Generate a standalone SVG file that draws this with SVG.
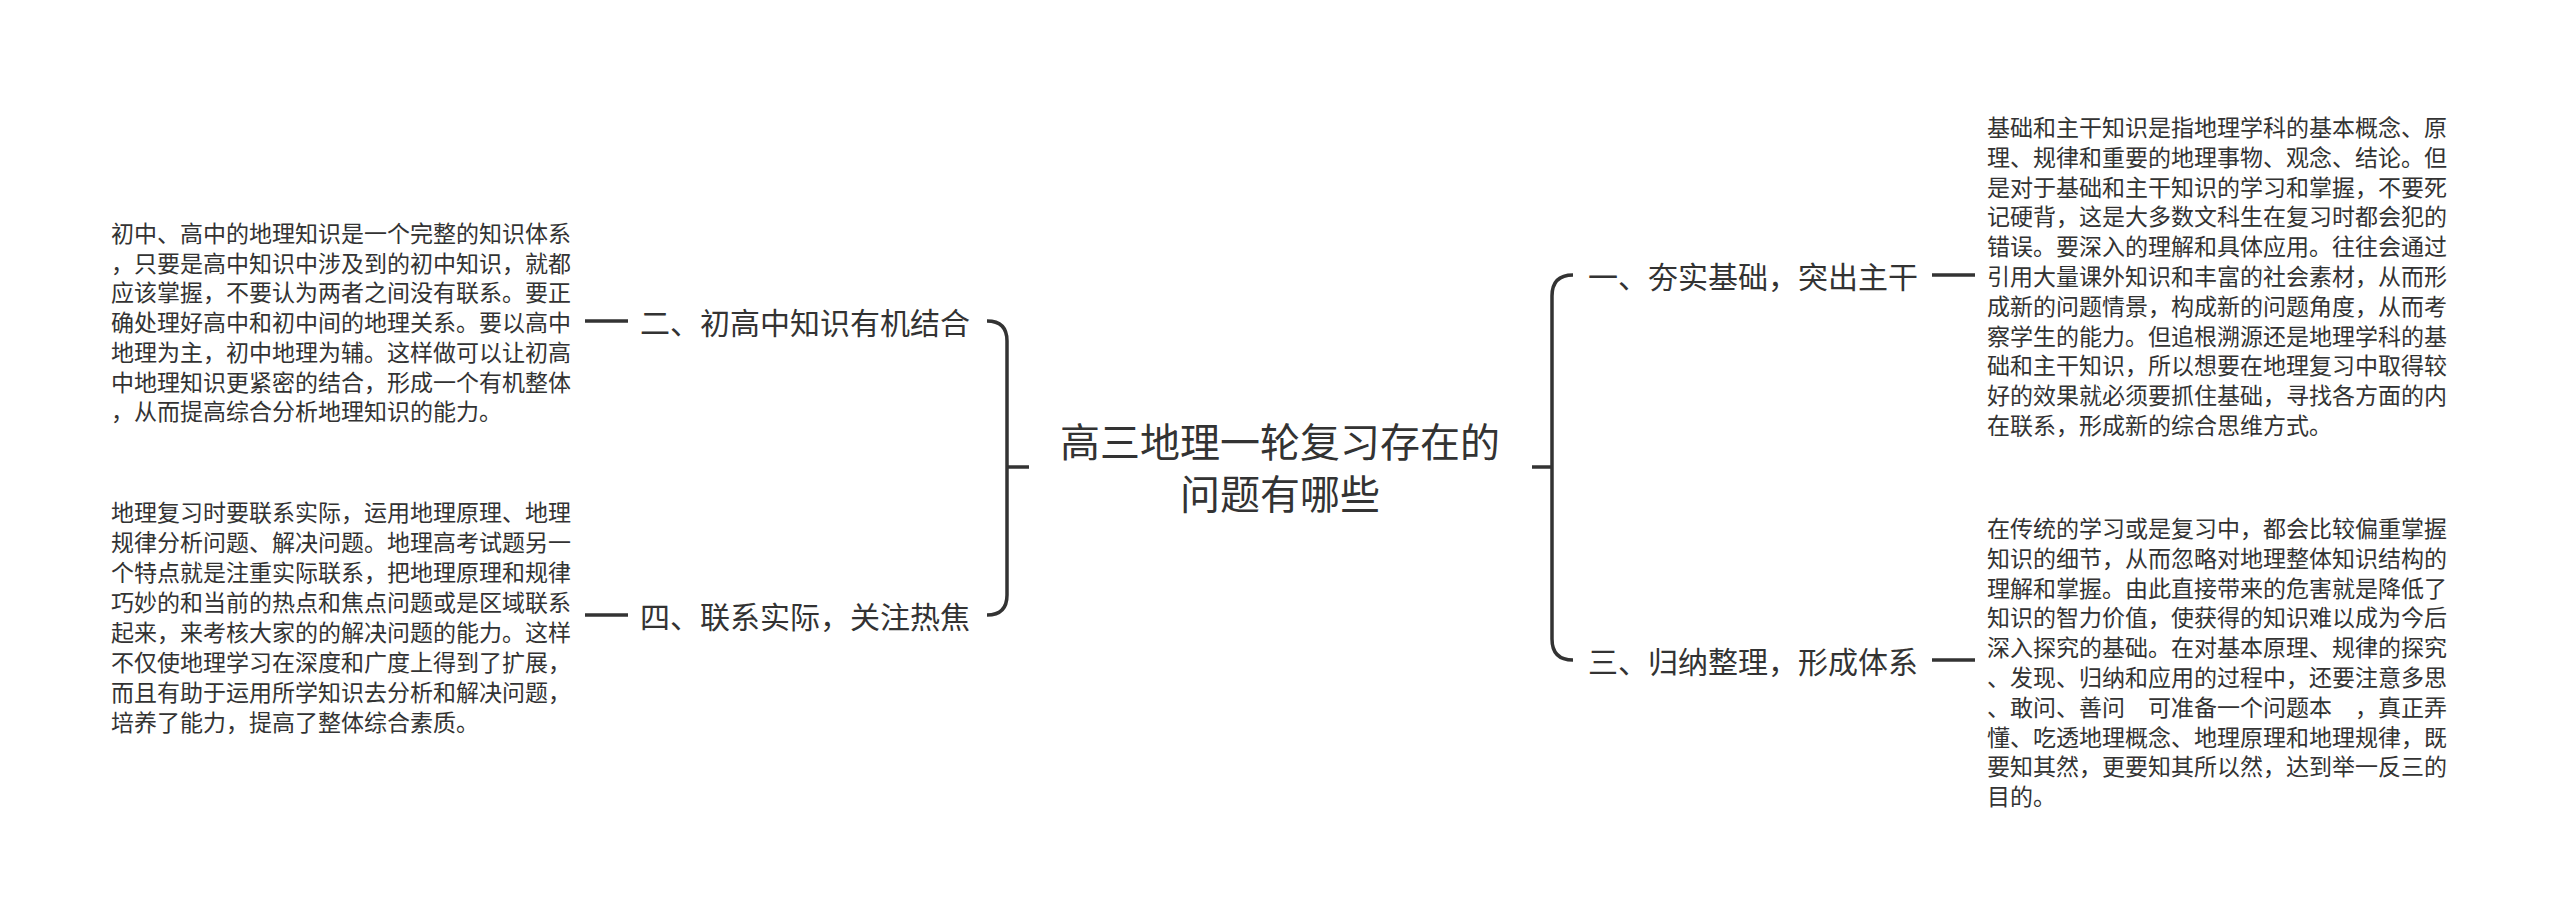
<svg xmlns="http://www.w3.org/2000/svg" width="2560" height="919" viewBox="0 0 2560 919">
<style>
text{font-family:"Noto Sans CJK SC","Noto Sans",sans-serif;fill:#333;}
.root{font-size:40px;}
.lbl{font-size:30px;}
.para{font-size:23px;}
.ln{fill:none;stroke:#333;stroke-width:3.5;stroke-linecap:butt;}
</style>
<rect width="2560" height="919" fill="#fff"/>
<g id="connectors">
<path class="ln" d="M1029 467 H1007"/>
<path class="ln" d="M987 321 Q1007 321 1007 341 V595 Q1007 615 987 615"/>
<path class="ln" d="M1532 467 H1552"/>
<path class="ln" d="M1573 275 Q1552 275 1552 296 V639 Q1552 660 1573 660"/>
<path class="ln" d="M628 321 H585"/>
<path class="ln" d="M628 615 H585"/>
<path class="ln" d="M1932 275 H1975"/>
<path class="ln" d="M1932 660 H1975"/>
</g>
<g id="root">
<text class="root" text-anchor="middle" dominant-baseline="central"><tspan x="1280" y="440">高三地理一轮复习存在的</tspan><tspan x="1280" y="492">问题有哪些</tspan></text>
</g>
<g id="n1">
<text class="lbl" x="1588" y="275" dominant-baseline="central">一、夯实基础，突出主干</text>
</g>
<g id="n2">
<text class="lbl" x="970" y="321" text-anchor="end" dominant-baseline="central">二、初高中知识有机结合</text>
</g>
<g id="n3">
<text class="lbl" x="1588" y="660" dominant-baseline="central">三、归纳整理，形成体系</text>
</g>
<g id="n4">
<text class="lbl" x="970" y="615" text-anchor="end" dominant-baseline="central">四、联系实际，关注热焦</text>
</g>
<g id="n1-detail">
<text class="para" dominant-baseline="central">
<tspan x="1987" y="126">基础和主干知识是指地理学科的基本概念、原</tspan>
<tspan x="1987" dy="29.8">理、规律和重要的地理事物、观念、结论。但</tspan>
<tspan x="1987" dy="29.8">是对于基础和主干知识的学习和掌握，不要死</tspan>
<tspan x="1987" dy="29.8">记硬背，这是大多数文科生在复习时都会犯的</tspan>
<tspan x="1987" dy="29.8">错误。要深入的理解和具体应用。往往会通过</tspan>
<tspan x="1987" dy="29.8">引用大量课外知识和丰富的社会素材，从而形</tspan>
<tspan x="1987" dy="29.8">成新的问题情景，构成新的问题角度，从而考</tspan>
<tspan x="1987" dy="29.8">察学生的能力。但追根溯源还是地理学科的基</tspan>
<tspan x="1987" dy="29.8">础和主干知识，所以想要在地理复习中取得较</tspan>
<tspan x="1987" dy="29.8">好的效果就必须要抓住基础，寻找各方面的内</tspan>
<tspan x="1987" dy="29.8">在联系，形成新的综合思维方式。</tspan>
</text>
</g>
<g id="n2-detail">
<text class="para" dominant-baseline="central">
<tspan x="111" y="232">初中、高中的地理知识是一个完整的知识体系</tspan>
<tspan x="111" dy="29.7">，只要是高中知识中涉及到的初中知识，就都</tspan>
<tspan x="111" dy="29.7">应该掌握，不要认为两者之间没有联系。要正</tspan>
<tspan x="111" dy="29.7">确处理好高中和初中间的地理关系。要以高中</tspan>
<tspan x="111" dy="29.7">地理为主，初中地理为辅。这样做可以让初高</tspan>
<tspan x="111" dy="29.7">中地理知识更紧密的结合，形成一个有机整体</tspan>
<tspan x="111" dy="29.7">，从而提高综合分析地理知识的能力。</tspan>
</text>
</g>
<g id="n3-detail">
<text class="para" dominant-baseline="central">
<tspan x="1987" y="527">在传统的学习或是复习中，都会比较偏重掌握</tspan>
<tspan x="1987" dy="29.8">知识的细节，从而忽略对地理整体知识结构的</tspan>
<tspan x="1987" dy="29.8">理解和掌握。由此直接带来的危害就是降低了</tspan>
<tspan x="1987" dy="29.8">知识的智力价值，使获得的知识难以成为今后</tspan>
<tspan x="1987" dy="29.8">深入探究的基础。在对基本原理、规律的探究</tspan>
<tspan x="1987" dy="29.8">、发现、归纳和应用的过程中，还要注意多思</tspan>
<tspan x="1987" dy="29.8">、敢问、善问　可准备一个问题本　，真正弄</tspan>
<tspan x="1987" dy="29.8">懂、吃透地理概念、地理原理和地理规律，既</tspan>
<tspan x="1987" dy="29.8">要知其然，更要知其所以然，达到举一反三的</tspan>
<tspan x="1987" dy="29.8">目的。</tspan>
</text>
</g>
<g id="n4-detail">
<text class="para" dominant-baseline="central">
<tspan x="111" y="511">地理复习时要联系实际，运用地理原理、地理</tspan>
<tspan x="111" dy="30">规律分析问题、解决问题。地理高考试题另一</tspan>
<tspan x="111" dy="30">个特点就是注重实际联系，把地理原理和规律</tspan>
<tspan x="111" dy="30">巧妙的和当前的热点和焦点问题或是区域联系</tspan>
<tspan x="111" dy="30">起来，来考核大家的的解决问题的能力。这样</tspan>
<tspan x="111" dy="30">不仅使地理学习在深度和广度上得到了扩展，</tspan>
<tspan x="111" dy="30">而且有助于运用所学知识去分析和解决问题，</tspan>
<tspan x="111" dy="30">培养了能力，提高了整体综合素质。</tspan>
</text>
</g>
</svg>
